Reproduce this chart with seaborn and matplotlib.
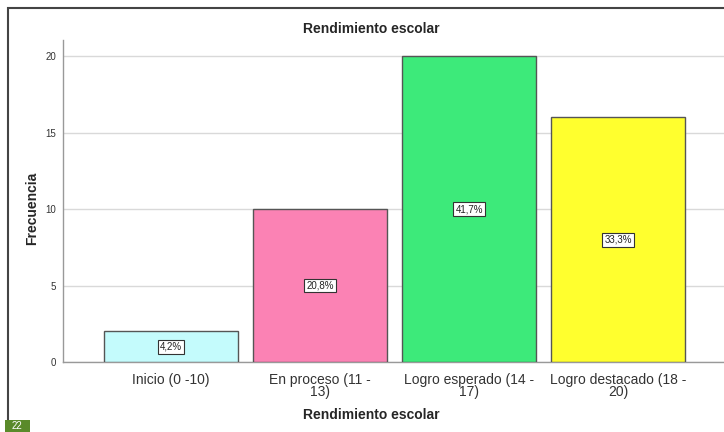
import matplotlib
matplotlib.use("Agg")
import matplotlib.pyplot as plt
import seaborn as sns
import pandas as pd
from matplotlib.patches import Rectangle

categories = ["Inicio (0 -10)", "En proceso (11 -\n13)",
              "Logro esperado (14 -\n17)", "Logro destacado (18 -\n20)"]
frequencies = [2, 10, 20, 16]
percent_labels = ["4,2%", "20,8%", "41,7%", "33,3%"]
bar_colors = ["#C4FBFC", "#FB82B4", "#3DEA7A", "#FFFF2E"]

df = pd.DataFrame({"categoria": categories, "frecuencia": frequencies})

sns.set_style("white")
plt.rcParams['font.family'] = ['Liberation Sans', 'DejaVu Sans']

fig = plt.figure(figsize=(7.24, 4.32), dpi=100)
W, H = 724, 432
ax = fig.add_axes([63 / W, 1 - 362 / H, 1 - 63 / W, (362 - 40) / H])

sns.barplot(data=df, x="categoria", y="frecuencia", hue="categoria",
            palette=bar_colors, saturation=1, width=0.9, edgecolor="#555555",
            linewidth=1, legend=False, ax=ax, zorder=3)

ax.set_xlim(-0.725, 3.71)
ax.set_ylim(0, 21.05)
ax.set_yticks([0, 5, 10, 15, 20])
ax.yaxis.grid(True, color="#D9D9D9", linewidth=1, zorder=0)
ax.set_axisbelow(True)
for s in ["top", "right"]:
    ax.spines[s].set_visible(False)
for s in ["left", "bottom"]:
    ax.spines[s].set_color("#999999")
    ax.spines[s].set_linewidth(1)
ax.tick_params(axis="y", labelsize=7, colors="#333333", length=0, pad=5)
ax.tick_params(axis="x", labelsize=10, colors="#333333", length=0, pad=8)
for lbl in ax.get_xticklabels():
    lbl.set_linespacing(0.85)
ax.set_xlabel("")
ax.set_ylabel("")

for i, (v, p) in enumerate(zip(frequencies, percent_labels)):
    ax.text(i, v / 2, p, ha="center", va="center", fontsize=7, color="#222222",
            bbox=dict(boxstyle="square,pad=0.2", facecolor="white",
                      edgecolor="#333333", linewidth=0.8), zorder=5)

fig.text(371 / W, 1 - 29 / H, "Rendimiento escolar", ha="center", va="center",
         fontsize=10, fontweight="bold")
fig.text(371 / W, 1 - 415 / H, "Rendimiento escolar", ha="center", va="center",
         fontsize=10, fontweight="bold")
fig.text(32 / W, 1 - 208 / H, "Frecuencia", ha="center", va="center",
         rotation=90, fontsize=10, fontweight="bold")

# outer frame (cut off at right and bottom)
fig.patches.append(Rectangle((8 / W, -0.05), 1.0, 1 - 8 / H + 0.05,
                             transform=fig.transFigure, fill=False,
                             edgecolor="#444444", linewidth=1.5))

# page badge
fig.patches.append(Rectangle((5 / W, 0), 25 / W, 12 / H, transform=fig.transFigure,
                             facecolor="#5A8A2A", edgecolor="none"))
fig.text(17 / W, 1 / H, "22", ha="center", va="bottom", fontsize=7, color="white")

fig.savefig("out.png", dpi=100)
